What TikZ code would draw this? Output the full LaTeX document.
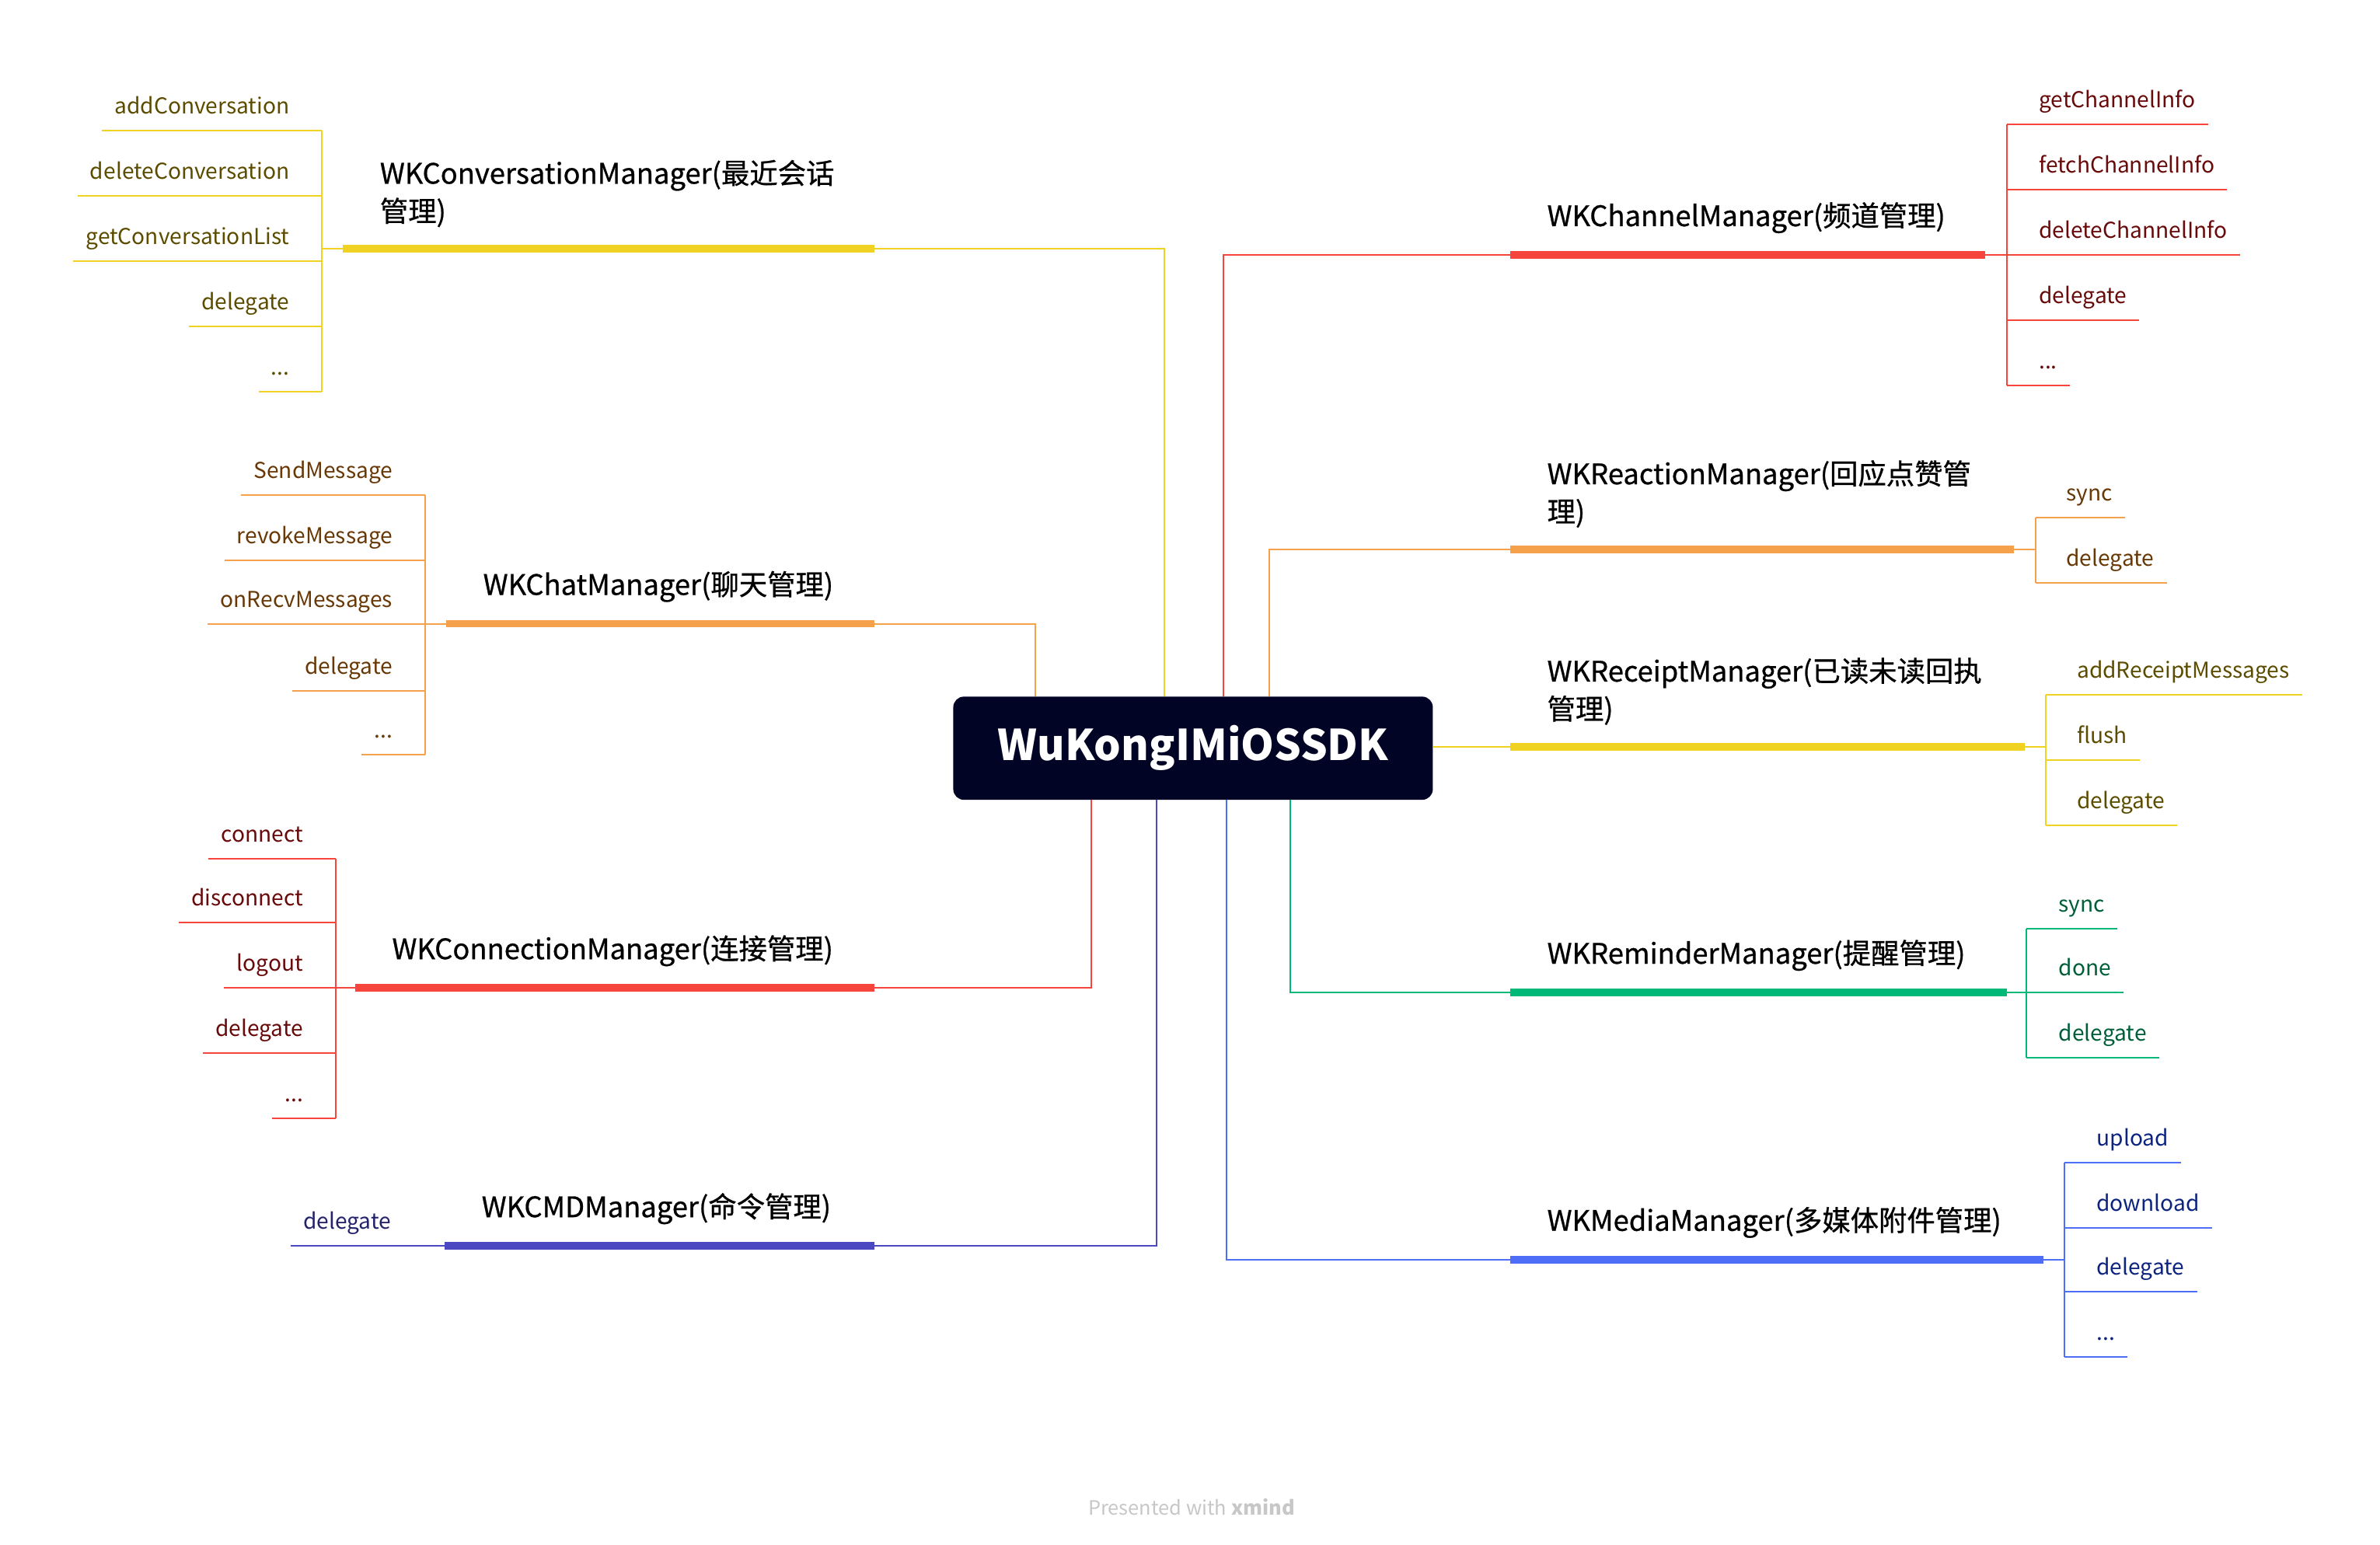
\documentclass[tikz,border=0pt]{standalone}
\usepackage{fontspec}
\setmainfont{Noto Sans CJK SC}
\newfontfamily\topicfont[FakeBold=0.7]{Noto Sans CJK SC}

\definecolor{rootblue}{HTML}{020426}
\definecolor{yel}{HTML}{F0D222}
\definecolor{yeltext}{HTML}{5C4C00}
\definecolor{ora}{HTML}{F5A04A}
\definecolor{oratext}{HTML}{683806}
\definecolor{rd}{HTML}{F5453D}
\definecolor{rdtext}{HTML}{680A0A}
\definecolor{pur}{HTML}{4B48C2}
\definecolor{purtext}{HTML}{25226C}
\definecolor{grn}{HTML}{00B877}
\definecolor{grntext}{HTML}{005E38}
\definecolor{blu}{HTML}{4F6EF7}
\definecolor{blutext}{HTML}{0C2480}

\newcommand{\etcdots}{...}

\tikzset{
  root/.style={fill=rootblue, text=white, rounded corners=0.14cm, minimum width=6.32cm,
    minimum height=1.36cm, inner sep=0pt, font=\bfseries\fontsize{15.9}{20}\selectfont},
  topic/.style={anchor=south west, inner sep=0pt, align=left, font=\topicfont\fontsize{10.6}{14.2}\selectfont},
  leaf/.style={inner sep=0pt, font=\fontsize{8.2}{10}\selectfont},
  bar/.style={line width=2.8pt},
  link/.style={line width=0.6pt},
}

\begin{document}
\begin{tikzpicture}[x=0.02cm,y=-0.02cm]
\useasboundingbox (0,0) rectangle (1568,1018);

\node[root] (root) at (786,493) {WuKongIMiOSSDK};

% points where the branches leave the root
\coordinate (r-conv) at (767,459);
\coordinate (r-chat) at (682,459);
\coordinate (r-conn) at (719,527);
\coordinate (r-cmd) at (762,527);
\coordinate (r-chan) at (806,459);
\coordinate (r-react) at (836,459);
\coordinate (r-remind) at (850,527);
\coordinate (r-media) at (808,527);

% left: conversation
\coordinate (conv-a) at (226,164);
\coordinate (conv-b) at (576,164);
\node[topic] (conv) at (250,150) {WKConversationManager(最近会话\\管理)};
\draw[bar, yel] (conv-a) -- (conv-b);
\draw[link, yel] (conv-b) -| (r-conv);
\draw[link, yel] (conv-a) -- (212,164);
\draw[link, yel] (212,86) -- (212,258);
\foreach \t/\y [count=\i] in {addConversation/86, deleteConversation/129, getConversationList/172, delegate/215, \etcdots/258}{
  \node[leaf, anchor=base east, text=yeltext] (conv-\i) at (191,\y-11) {\t};
  \draw[link, yel] (conv-\i.base west) ++(-8,11) -- (212,\y);
}

% left: chat
\coordinate (chat-a) at (294,411);
\coordinate (chat-b) at (576,411);
\node[topic] (chat) at (318,397) {WKChatManager(聊天管理)};
\draw[bar, ora] (chat-a) -- (chat-b);
\draw[link, ora] (chat-b) -| (r-chat);
\draw[link, ora] (chat-a) -- (280,411);
\draw[link, ora] (280,326) -- (280,497);
\foreach \t/\y [count=\i] in {SendMessage/326, revokeMessage/369, onRecvMessages/411, delegate/455, \etcdots/497}{
  \node[leaf, anchor=base east, text=oratext] (chat-\i) at (259,\y-11) {\t};
  \draw[link, ora] (chat-\i.base west) ++(-8,11) -- (280,\y);
}

% left: connection
\coordinate (conn-a) at (234,651);
\coordinate (conn-b) at (576,651);
\node[topic] (conn) at (258,637) {WKConnectionManager(连接管理)};
\draw[bar, rd] (conn-a) -- (conn-b);
\draw[link, rd] (conn-b) -| (r-conn);
\draw[link, rd] (conn-a) -- (221,651);
\draw[link, rd] (221,566) -- (221,737);
\foreach \t/\y [count=\i] in {connect/566, disconnect/608, logout/651, delegate/694, \etcdots/737}{
  \node[leaf, anchor=base east, text=rdtext] (conn-\i) at (200,\y-11) {\t};
  \draw[link, rd] (conn-\i.base west) ++(-8,11) -- (221,\y);
}

% left: cmd
\coordinate (cmd-a) at (293,821);
\coordinate (cmd-b) at (576,821);
\node[topic] (cmd) at (317,807) {WKCMDManager(命令管理)};
\draw[bar, pur] (cmd-a) -- (cmd-b);
\draw[link, pur] (cmd-b) -| (r-cmd);
\node[leaf, anchor=base east, text=purtext] (cmd-1) at (258,810) {delegate};
\draw[link, pur] (cmd-1.base west) ++(-8,11) -- (cmd-a);

% right: channel
\coordinate (chan-a) at (995,168);
\coordinate (chan-b) at (1308,168);
\node[topic] (chan) at (1019,154) {WKChannelManager(频道管理)};
\draw[bar, rd] (chan-a) -- (chan-b);
\draw[link, rd] (r-chan) |- (chan-a);
\draw[link, rd] (chan-b) -- (1322,168);
\draw[link, rd] (1322,82) -- (1322,254);
\foreach \t/\y [count=\i] in {getChannelInfo/82, fetchChannelInfo/125, deleteChannelInfo/168, delegate/211, \etcdots/254}{
  \node[leaf, anchor=base west, text=rdtext] (chan-\i) at (1343,\y-11) {\t};
  \draw[link, rd] (chan-\i.base east) ++(8,11) -- (1322,\y);
}

% right: reaction
\coordinate (react-a) at (995,362);
\coordinate (react-b) at (1327,362);
\node[topic] (react) at (1019,348) {WKReactionManager(回应点赞管\\理)};
\draw[bar, ora] (react-a) -- (react-b);
\draw[link, ora] (r-react) |- (react-a);
\draw[link, ora] (react-b) -- (1341,362);
\draw[link, ora] (1341,341) -- (1341,384);
\foreach \t/\y [count=\i] in {sync/341, delegate/384}{
  \node[leaf, anchor=base west, text=oratext] (react-\i) at (1361,\y-11) {\t};
  \draw[link, ora] (react-\i.base east) ++(8,11) -- (1341,\y);
}

% right: receipt
\coordinate (rcpt-a) at (995,492);
\coordinate (rcpt-b) at (1334,492);
\node[topic] (rcpt) at (1019,478) {WKReceiptManager(已读未读回执\\管理)};
\draw[bar, yel] (rcpt-a) -- (rcpt-b);
\draw[link, yel] (root.east |- rcpt-a) -- (rcpt-a);
\draw[link, yel] (rcpt-b) -- (1348,492);
\draw[link, yel] (1348,458) -- (1348,544);
\foreach \t/\y [count=\i] in {addReceiptMessages/458, flush/501, delegate/544}{
  \node[leaf, anchor=base west, text=yeltext] (rcpt-\i) at (1368,\y-11) {\t};
  \draw[link, yel] (rcpt-\i.base east) ++(8,11) -- (1348,\y);
}

% right: reminder
\coordinate (remind-a) at (995,654);
\coordinate (remind-b) at (1322,654);
\node[topic] (remind) at (1019,640) {WKReminderManager(提醒管理)};
\draw[bar, grn] (remind-a) -- (remind-b);
\draw[link, grn] (r-remind) |- (remind-a);
\draw[link, grn] (remind-b) -- (1335,654);
\draw[link, grn] (1335,612) -- (1335,697);
\foreach \t/\y [count=\i] in {sync/612, done/654, delegate/697}{
  \node[leaf, anchor=base west, text=grntext] (remind-\i) at (1356,\y-11) {\t};
  \draw[link, grn] (remind-\i.base east) ++(8,11) -- (1335,\y);
}

% right: media
\coordinate (media-a) at (995,830);
\coordinate (media-b) at (1346,830);
\node[topic] (media) at (1019,816) {WKMediaManager(多媒体附件管理)};
\draw[bar, blu] (media-a) -- (media-b);
\draw[link, blu] (r-media) |- (media-a);
\draw[link, blu] (media-b) -- (1360,830);
\draw[link, blu] (1360,766) -- (1360,894);
\foreach \t/\y [count=\i] in {upload/766, download/809, delegate/851, \etcdots/894}{
  \node[leaf, anchor=base west, text=blutext] (media-\i) at (1381,\y-11) {\t};
  \draw[link, blu] (media-\i.base east) ++(8,11) -- (1360,\y);
}

\node[text=black!22, font=\fontsize{7.4}{9}\selectfont] (credit) at (785,993) {Presented with \textbf{xmind}};
\end{tikzpicture}
\end{document}
